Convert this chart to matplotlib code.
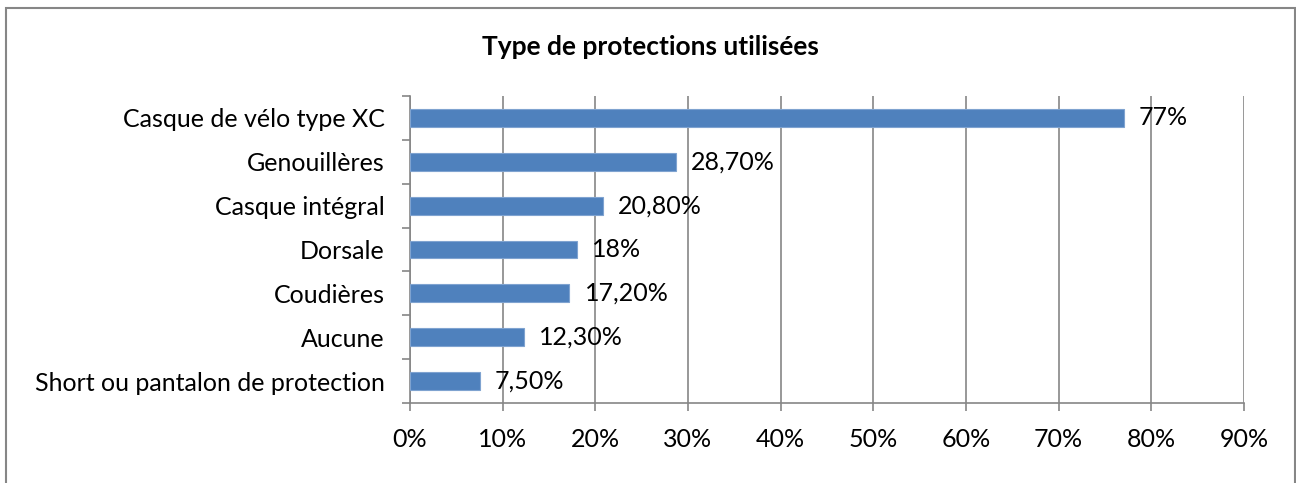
import numpy as np
import matplotlib.pyplot as plt
from matplotlib.patches import Rectangle

categories = ['Short ou pantalon de protection', 'Aucune', 'Coudières', 'Dorsale',
              'Casque intégral', 'Genouillères', 'Casque de vélo type XC']
values = [7.5, 12.3, 17.2, 18.0, 20.8, 28.7, 77.0]
value_labels = ['7,50%', '12,30%', '17,20%', '18%', '20,80%', '28,70%', '77%']
xticks = np.arange(0, 91, 10)

plt.rcParams['font.family'] = ['Lato', 'DejaVu Sans']

fig = plt.figure(figsize=(12.96, 4.83), dpi=100)
ax = fig.add_axes([410 / 1296, 1 - 403 / 483, 834 / 1296, 307 / 483])

y = np.arange(len(categories))
ax.barh(y, values, height=0.41, color='#4F81BD', edgecolor='#7FA3D0', linewidth=0.8, zorder=3)
for yi, v, lab in zip(y, values, value_labels):
    ax.annotate(lab, (v, yi), xytext=(11, 0), textcoords='offset points',
                va='center', ha='left', fontsize=18, color='black', zorder=4)

ax.set_xlim(0, 90)
ax.set_ylim(-0.5, len(categories) - 0.5)
ax.set_xticks(xticks)
ax.set_xticklabels([f'{t}%' for t in xticks])
ax.set_yticks(y)
ax.set_yticklabels(categories)
ax.set_yticks(np.arange(-0.5, len(categories), 1), minor=True)
ax.tick_params(axis='y', which='major', length=0, pad=18, labelsize=18)
ax.tick_params(axis='y', which='minor', length=6, width=1.2, color='#868686', direction='out')
ax.tick_params(axis='x', length=6, width=1.2, color='#868686', pad=12, labelsize=18)

ax.grid(axis='x', color='#868686', linewidth=1.2, zorder=0)
for side in ['top', 'right']:
    ax.spines[side].set_visible(False)
for side in ['left', 'bottom']:
    ax.spines[side].set_color('#868686')
    ax.spines[side].set_linewidth(1.2)

fig.text(650 / 1296, 1 - 47 / 483, 'Type de protections utilisées', ha='center', va='center',
         fontsize=19, fontweight='bold')

fig.patches.append(Rectangle((6 / 1296, -0.02), 1289 / 1296, 1.02 - 8 / 483,
                             transform=fig.transFigure, fill=False,
                             edgecolor='#868686', linewidth=1.5))

fig.savefig('out.png', dpi=100)
